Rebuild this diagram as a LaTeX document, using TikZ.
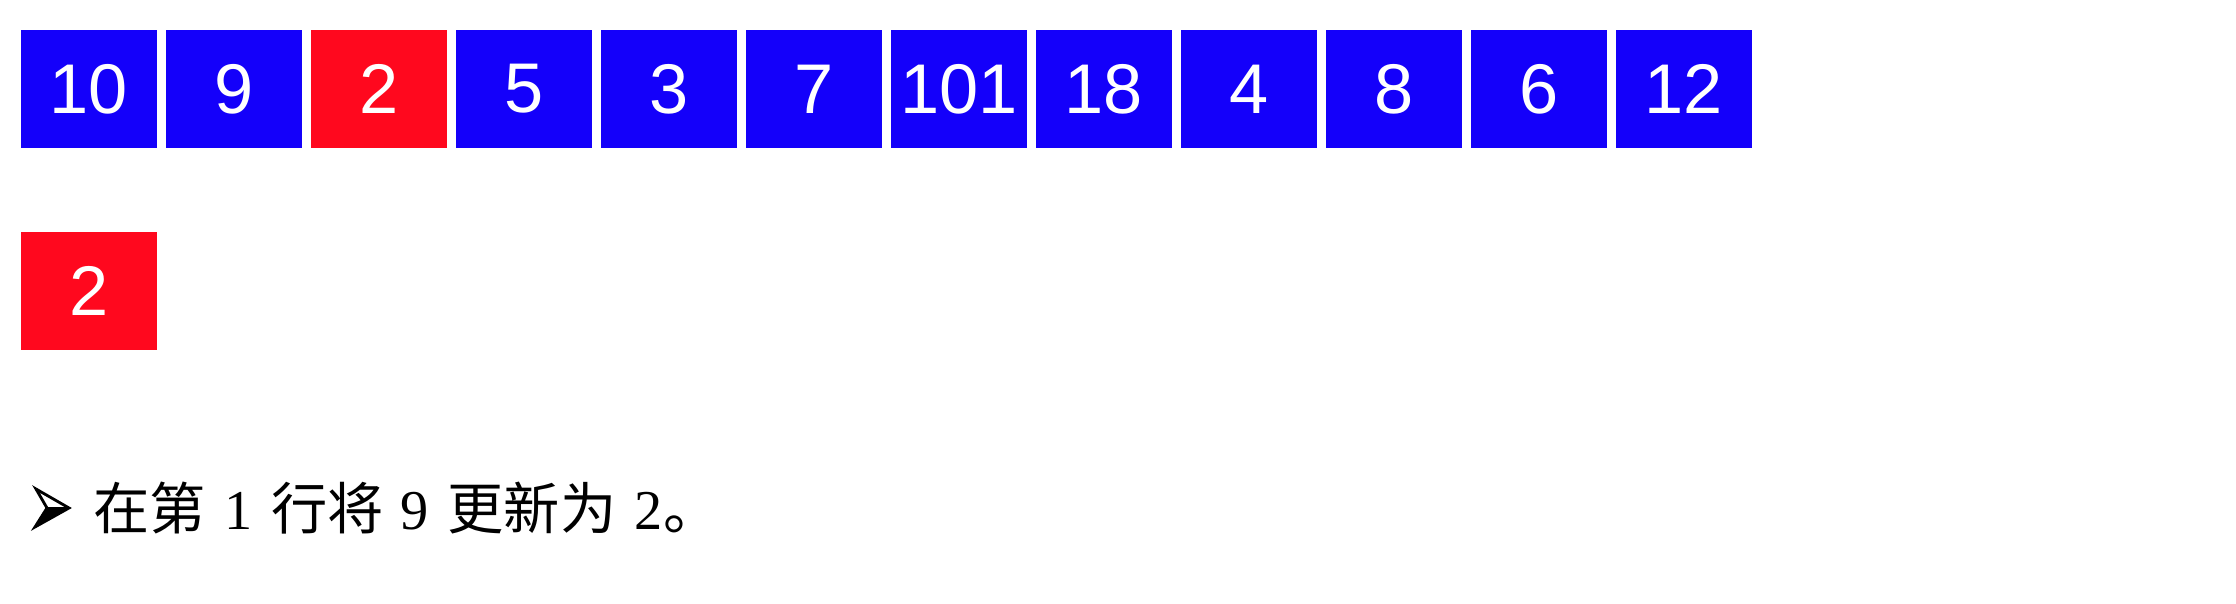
\documentclass[tikz,border=0pt]{standalone}
\usepackage{fontspec}
\setmainfont{Liberation Serif}
\newfontfamily\cjk{Noto Sans CJK SC}
\newfontfamily\numfont{Liberation Sans}
\definecolor{cellblue}{RGB}{20,0,250}
\definecolor{cellred}{RGB}{255,8,30}
\tikzset{
  cell/.style={minimum width=1.36cm, minimum height=1.175cm, inner sep=0pt, outer sep=0pt,
    text=white, font=\numfont\fontsize{20}{20}\selectfont, anchor=north west, fill=cellblue},
  redcell/.style={cell, fill=cellred},
  note/.style={anchor=base west, inner sep=0pt, font=\fontsize{16}{16}\selectfont},
  bulletline/.style={line width=0.8pt, line join=miter}
}
\begin{document}
\begin{tikzpicture}[x=0.01cm,y=-0.01cm]
\useasboundingbox (0,0) rectangle (2236,604);
\foreach \v [count=\i from 0] in {10,9,2,5,3,7,101,18,4,8,6,12}{
  \ifnum\i=2
    \node[redcell] (c\i) at ({20.7+145*\i},30.3) {\v};
  \else
    \node[cell] (c\i) at ({20.7+145*\i},30.3) {\v};
  \fi
}
\node[redcell] (r0) at (20.7,232.3) {2};
% bullet arrowhead
\coordinate (ba) at (36,489);
\coordinate (bt) at (69,508);
\coordinate (bn) at (47,508);
\coordinate (bb) at (35,527);
\fill (bn) -- (bt) -- (bb) -- cycle;
\draw[bulletline] (ba) -- (bt) -- (bb) -- (bn) -- cycle;
\draw[bulletline] (bn) -- (bt);
\node[note] (txt) at (93,530) {{\cjk 在第}\hspace{0.33em}1\hspace{0.33em}{\cjk 行将}\hspace{0.3em}9\hspace{0.33em}{\cjk 更新为}\hspace{0.33em}2{\cjk 。}};
\end{tikzpicture}
\end{document}
